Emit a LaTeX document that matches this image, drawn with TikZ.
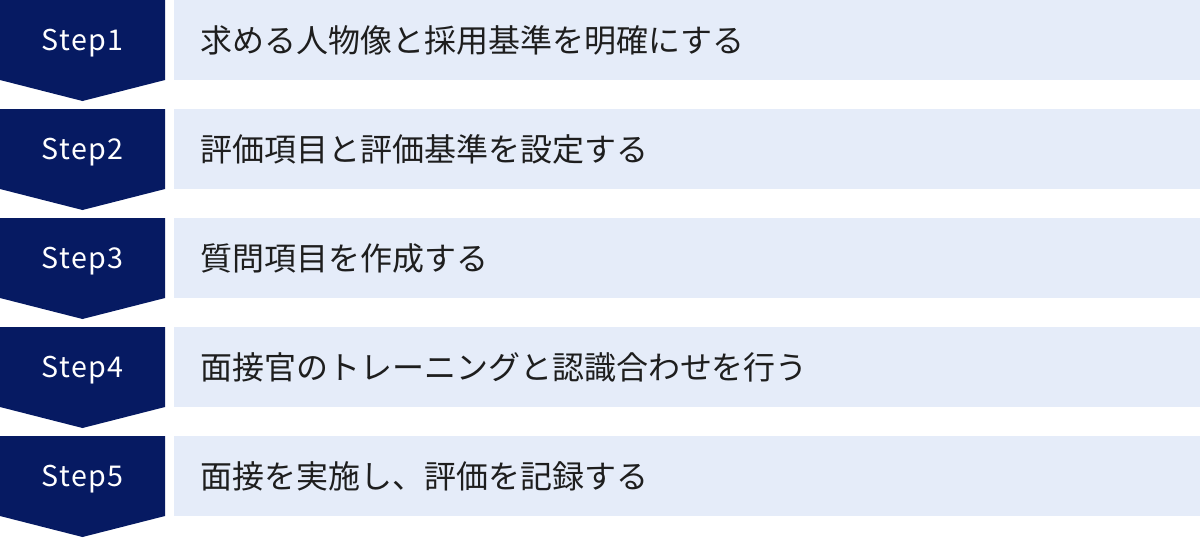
\documentclass[tikz,border=0pt]{standalone}
\usepackage{fontspec}
\newfontfamily\jpfont{Noto Sans CJK JP}
\newfontfamily\stepfont[LetterSpace=5]{Noto Sans CJK JP}
\usetikzlibrary{positioning}
\definecolor{stepnavy}{HTML}{061A62}
\definecolor{boxblue}{HTML}{E5ECF9}
\definecolor{textgray}{HTML}{1E1E1E}
\tikzstyle{stepbox} = [fill=boxblue, minimum width=20.52cm, minimum height=1.6cm, inner sep=0, anchor=north west]
\tikzstyle{steplabel} = [text=white, font=\stepfont\fontsize{16.3}{16.3}\selectfont, inner sep=0]
\tikzstyle{task} = [text=textgray, font=\jpfont\fontsize{18.2}{18.2}\selectfont, inner sep=0, anchor=west]
\newcommand{\chevron}[1]{\fill[stepnavy] (0,#1) -- (165,#1) -- (165,#1+80) -- (82.5,#1+101) -- (0,#1+80) -- cycle;}

\begin{document}
\begin{tikzpicture}[x=0.02cm,y=-0.02cm]
\useasboundingbox (0,0) rectangle (1200,538);
% step 1
\chevron{0}
\node[steplabel] (s1) at (82.5,43) {Step1};
\node[stepbox] (b1) at (174,0) {};
\node[task] (t1) at (200,40) {求める人物像と採用基準を明確にする};
% step 2
\chevron{109}
\node[steplabel] (s2) at (82.5,152) {Step2};
\node[stepbox] (b2) at (174,109) {};
\node[task] (t2) at (200,149) {評価項目と評価基準を設定する};
% step 3
\chevron{218}
\node[steplabel] (s3) at (82.5,261) {Step3};
\node[stepbox] (b3) at (174,218) {};
\node[task] (t3) at (200,258) {質問項目を作成する};
% step 4
\chevron{327}
\node[steplabel] (s4) at (82.5,370) {Step4};
\node[stepbox] (b4) at (174,327) {};
\node[task] (t4) at (200,367) {面接官のトレーニングと認識合わせを行う};
% step 5
\chevron{436}
\node[steplabel] (s5) at (82.5,479) {Step5};
\node[stepbox] (b5) at (174,436) {};
\node[task] (t5) at (200,476) {面接を実施し、評価を記録する};
\end{tikzpicture}
\end{document}
